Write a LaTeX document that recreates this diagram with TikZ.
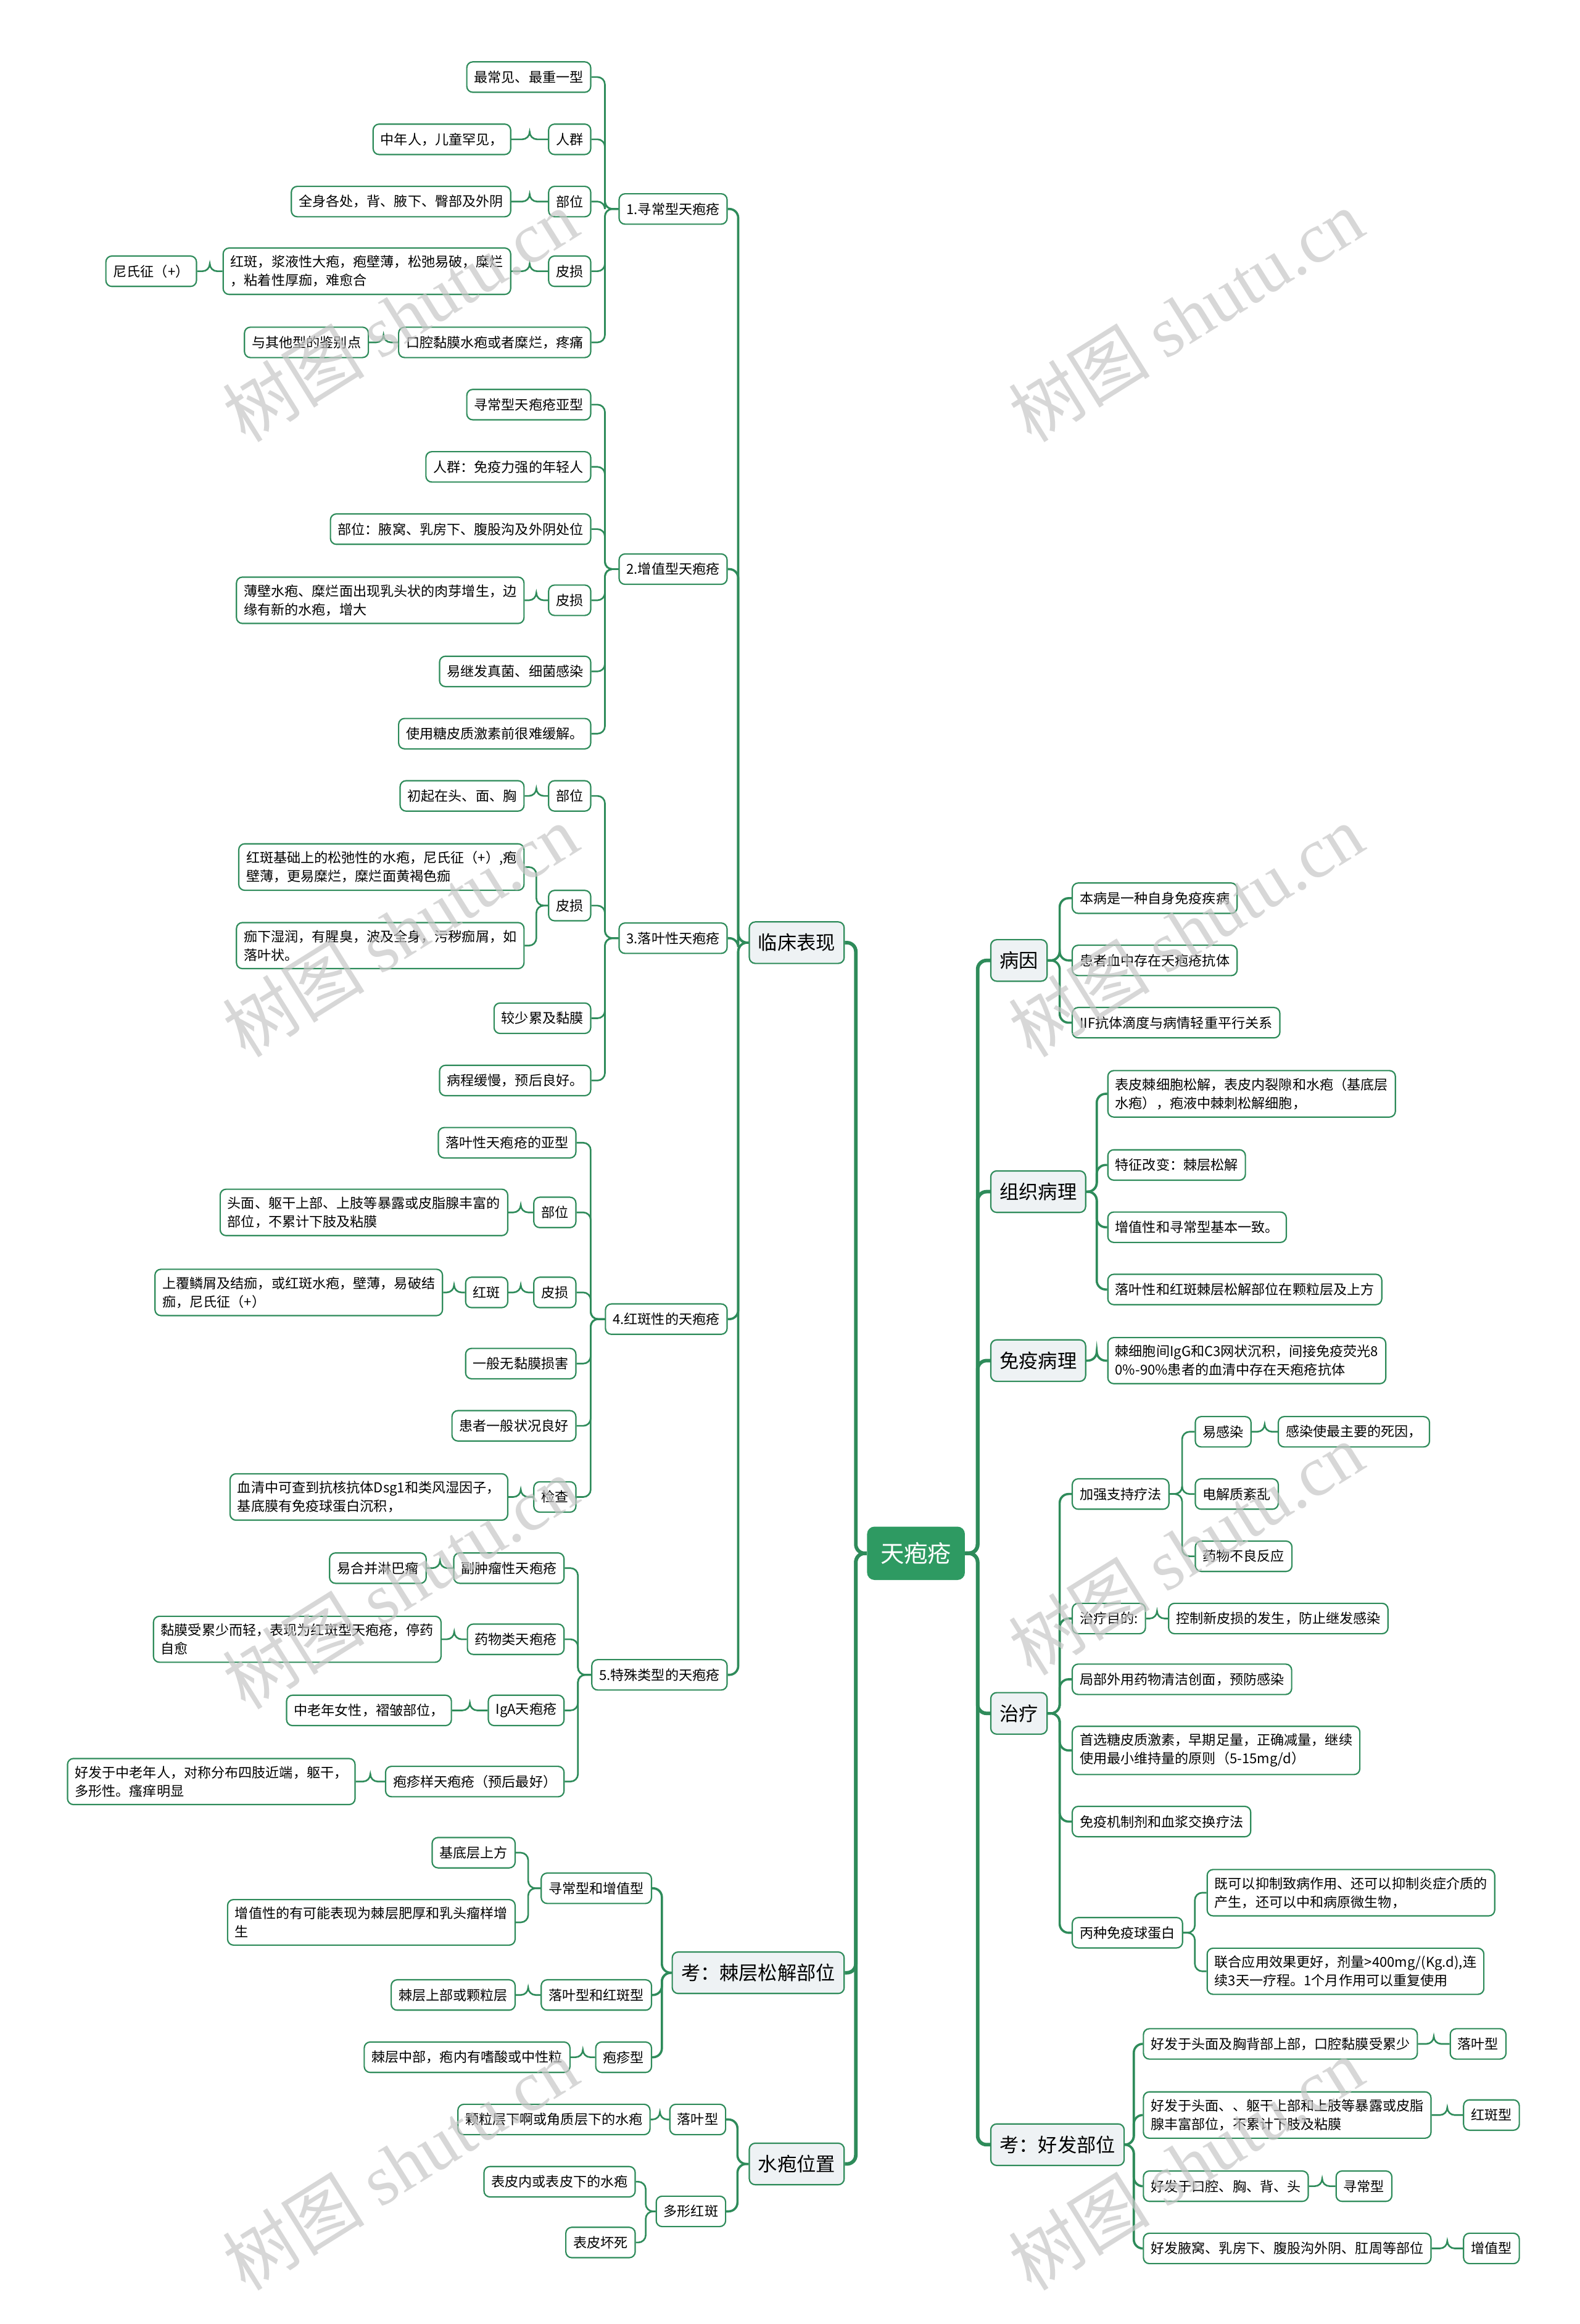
\documentclass[tikz,border=0pt]{standalone}
\usepackage{fontspec}
\setmainfont{Noto Sans CJK SC}
\newfontfamily\wmfont{Liberation Serif}
\usetikzlibrary{calc}
\definecolor{lg}{HTML}{2E8B5A}
\definecolor{rg}{HTML}{2E9A62}
\definecolor{lf}{HTML}{EEF2F4}
\newcommand\lk[3][]{\draw[#1] (#2.west) -- ($(#2.west)!0.5!(#2.west -| #3.east)$) |- (#3.east);}
\newcommand\rk[3][]{\draw[#1] (#2.east) -- ($(#2.east)!0.5!(#2.east -| #3.west)$) |- (#3.west);}
\begin{document}
\begin{tikzpicture}[x=1pt,y=-1pt,
  n/.style={draw=lg, line width=0.9pt, fill=white, rounded corners=4pt,
    font=\fontsize{9.2}{12.5}\selectfont, inner xsep=5pt, inner ysep=5pt,
    minimum height=20.5pt, align=left},
  l1/.style={n, fill=lf, font=\fontsize{13}{15}\selectfont, minimum height=28pt, inner xsep=6pt},
  root/.style={fill=rg, text=white, rounded corners=5pt, font=\fontsize{16}{18}\selectfont,
    minimum height=36pt, inner xsep=9pt},
  e0/.style={draw=lg, line width=2.4pt, rounded corners=6pt},
  e1/.style={draw=lg, line width=1.5pt, rounded corners=6pt},
  e2/.style={draw=lg, line width=1.1pt, rounded corners=5pt},
  wm/.style={rotate=32, text=black!22, opacity=0.7, font=\fontsize{48}{50}\selectfont}
]
\useasboundingbox (0,0) rectangle (1066,1568);
\fill[white] (0,0) rectangle (1066,1568);

% root and level 1
\node[root] (R) at (618,1048) {天疱疮};
\node[l1, anchor=east] (L) at (570,636) {临床表现};
\node[l1, anchor=east] (K1) at (570,1331) {考：棘层松解部位};
\node[l1, anchor=east] (W) at (570,1460) {水疱位置};
\node[l1, anchor=west] (B) at (668,648) {病因};
\node[l1, anchor=west] (Z) at (668,804) {组织病理};
\node[l1, anchor=west] (M) at (668,918) {免疫病理};
\node[l1, anchor=west] (T) at (668,1156) {治疗};
\node[l1, anchor=west] (H) at (668,1447) {考：好发部位};

% clinical subtypes
\node[n, anchor=east] (A1) at (491,141) {1.寻常型天疱疮};
\node[n, anchor=east] (A2) at (491,384) {2.增值型天疱疮};
\node[n, anchor=east] (A3) at (491,633) {3.落叶性天疱疮};
\node[n, anchor=east] (A4) at (491,890) {4.红斑性的天疱疮};
\node[n, anchor=east] (A5) at (491,1130) {5.特殊类型的天疱疮};

% A1
\node[n, anchor=east] (A1a) at (399,52) {最常见、最重一型};
\node[n, anchor=east] (A1b) at (399,94) {人群};
\node[n, anchor=east] (A1b1) at (345,94) {中年人，儿童罕见，};
\node[n, anchor=east] (A1c) at (399,136) {部位};
\node[n, anchor=east] (A1c1) at (345,136) {全身各处，背、腋下、臀部及外阴};
\node[n, anchor=east] (A1d) at (399,183) {皮损};
\node[n, anchor=east] (A1d1) at (345,183) {红斑，浆液性大疱，疱壁薄，松弛易破，糜烂\\，粘着性厚痂，难愈合};
\node[n, anchor=east] (A1d2) at (133,183) {尼氏征（+）};
\node[n, anchor=east] (A1e) at (399,231) {口腔黏膜水疱或者糜烂，疼痛};
\node[n, anchor=east] (A1e1) at (249,231) {与其他型的鉴别点};

% A2
\node[n, anchor=east] (A2a) at (399,273) {寻常型天疱疮亚型};
\node[n, anchor=east] (A2b) at (399,315) {人群：免疫力强的年轻人};
\node[n, anchor=east] (A2c) at (399,357) {部位：腋窝、乳房下、腹股沟及外阴处位};
\node[n, anchor=east] (A2d) at (399,405) {皮损};
\node[n, anchor=east] (A2d1) at (354,405) {薄壁水疱、糜烂面出现乳头状的肉芽增生，边\\缘有新的水疱，增大};
\node[n, anchor=east] (A2e) at (399,453) {易继发真菌、细菌感染};
\node[n, anchor=east] (A2f) at (399,495) {使用糖皮质激素前很难缓解。};

% A3
\node[n, anchor=east] (A3a) at (399,537) {部位};
\node[n, anchor=east] (A3a1) at (354,537) {初起在头、面、胸};
\node[n, anchor=east] (A3b) at (399,611) {皮损};
\node[n, anchor=east] (A3b1) at (354,585) {红斑基础上的松弛性的水疱，尼氏征（+）,疱\\壁薄，更易糜烂，糜烂面黄褐色痂};
\node[n, anchor=east] (A3b2) at (354,638) {痂下湿润，有腥臭，波及全身，污秽痂屑，如\\落叶状。};
\node[n, anchor=east] (A3c) at (399,687) {较少累及黏膜};
\node[n, anchor=east] (A3d) at (399,729) {病程缓慢，预后良好。};

% A4
\node[n, anchor=east] (A4a) at (389,771) {落叶性天疱疮的亚型};
\node[n, anchor=east] (A4b) at (389,818) {部位};
\node[n, anchor=east] (A4b1) at (343,818) {头面、躯干上部、上肢等暴露或皮脂腺丰富的\\部位，不累计下肢及粘膜};
\node[n, anchor=east] (A4c) at (389,872) {皮损};
\node[n, anchor=east] (A4c1) at (343,872) {红斑};
\node[n, anchor=east] (A4c2) at (299,872) {上覆鳞屑及结痂，或红斑水疱，壁薄，易破结\\痂，尼氏征（+）};
\node[n, anchor=east] (A4d) at (389,920) {一般无黏膜损害};
\node[n, anchor=east] (A4e) at (389,962) {患者一般状况良好};
\node[n, anchor=east] (A4f) at (389,1010) {检查};
\node[n, anchor=east] (A4f1) at (343,1010) {血清中可查到抗核抗体Dsg1和类风湿因子，\\基底膜有免疫球蛋白沉积，};

% A5
\node[n, anchor=east] (A5a) at (381,1058) {副肿瘤性天疱疮};
\node[n, anchor=east] (A5a1) at (288,1058) {易合并淋巴瘤};
\node[n, anchor=east] (A5b) at (381,1106) {药物类天疱疮};
\node[n, anchor=east] (A5b1) at (298,1106) {黏膜受累少而轻，表现为红斑型天疱疮，停药\\自愈};
\node[n, anchor=east] (A5c) at (381,1154) {IgA天疱疮};
\node[n, anchor=east] (A5c1) at (305,1154) {中老年女性，褶皱部位，};
\node[n, anchor=east] (A5d) at (381,1202) {疱疹样天疱疮（预后最好）};
\node[n, anchor=east] (A5d1) at (240,1202) {好发于中老年人，对称分布四肢近端，躯干，\\多形性。瘙痒明显};

% K1
\node[n, anchor=east] (K1a) at (440,1274) {寻常型和增值型};
\node[n, anchor=east] (K1a1) at (348,1250) {基底层上方};
\node[n, anchor=east] (K1a2) at (348,1297) {增值性的有可能表现为棘层肥厚和乳头瘤样增\\生};
\node[n, anchor=east] (K1b) at (440,1346) {落叶型和红斑型};
\node[n, anchor=east] (K1b1) at (348,1346) {棘层上部或颗粒层};
\node[n, anchor=east] (K1c) at (440,1388) {疱疹型};
\node[n, anchor=east] (K1c1) at (385,1388) {棘层中部，疱内有嗜酸或中性粒};

% W
\node[n, anchor=east] (W1) at (490,1430) {落叶型};
\node[n, anchor=east] (W1a) at (439,1430) {颗粒层下啊或角质层下的水疱};
\node[n, anchor=east] (W2) at (490,1492) {多形红斑};
\node[n, anchor=east] (W2a) at (429,1472) {表皮内或表皮下的水疱};
\node[n, anchor=east] (W2b) at (429,1513) {表皮坏死};

% right side
\node[n, anchor=west] (B1) at (723,606) {本病是一种自身免疫疾病};
\node[n, anchor=west] (B2) at (723,648) {患者血中存在天疱疮抗体};
\node[n, anchor=west] (B3) at (723,690) {IIF抗体滴度与病情轻重平行关系};

\node[n, anchor=west] (Z1) at (747,738) {表皮棘细胞松解，表皮内裂隙和水疱（基底层\\水疱），疱液中棘刺松解细胞，};
\node[n, anchor=west] (Z2) at (747,786) {特征改变：棘层松解};
\node[n, anchor=west] (Z3) at (747,828) {增值性和寻常型基本一致。};
\node[n, anchor=west] (Z4) at (747,870) {落叶性和红斑棘层松解部位在颗粒层及上方};

\node[n, anchor=west] (M1) at (747,918) {棘细胞间IgG和C3网状沉积，间接免疫荧光8\\0\%-90\%患者的血清中存在天疱疮抗体};

\node[n, anchor=west] (T1) at (723,1008) {加强支持疗法};
\node[n, anchor=west] (T1a) at (806,966) {易感染};
\node[n, anchor=west] (T1a1) at (862,966) {感染使最主要的死因，};
\node[n, anchor=west] (T1b) at (806,1008) {电解质紊乱};
\node[n, anchor=west] (T1c) at (806,1050) {药物不良反应};
\node[n, anchor=west] (T2) at (723,1092) {治疗目的:};
\node[n, anchor=west] (T2a) at (788,1092) {控制新皮损的发生，防止继发感染};
\node[n, anchor=west] (T3) at (723,1133) {局部外用药物清洁创面，预防感染};
\node[n, anchor=west] (T4) at (723,1181) {首选糖皮质激素，早期足量，正确减量，继续\\使用最小维持量的原则（5-15mg/d）};
\node[n, anchor=west] (T5) at (723,1229) {免疫机制剂和血浆交换疗法};
\node[n, anchor=west] (T6) at (723,1304) {丙种免疫球蛋白};
\node[n, anchor=west] (T6a) at (814,1277) {既可以抑制致病作用、还可以抑制炎症介质的\\产生，还可以中和病原微生物，};
\node[n, anchor=west] (T6b) at (814,1330) {联合应用效果更好，剂量>400mg/(Kg.d),连\\续3天一疗程。1个月作用可以重复使用};

\node[n, anchor=west] (H1) at (771,1379) {好发于头面及胸背部上部，口腔黏膜受累少};
\node[n, anchor=west] (H1a) at (978,1379) {落叶型};
\node[n, anchor=west] (H2) at (771,1427) {好发于头面、、躯干上部和上肢等暴露或皮脂\\腺丰富部位，不累计下肢及粘膜};
\node[n, anchor=west] (H2a) at (987,1427) {红斑型};
\node[n, anchor=west] (H3) at (771,1475) {好发于口腔、胸、背、头};
\node[n, anchor=west] (H3a) at (901,1475) {寻常型};
\node[n, anchor=west] (H4) at (771,1517) {好发腋窝、乳房下、腹股沟外阴、肛周等部位};
\node[n, anchor=west] (H4a) at (987,1517) {增值型};

% ---- connectors ----
\lk[e0]{R}{L} \lk[e0]{R}{K1} \lk[e0]{R}{W}
\rk[e0]{R}{B} \rk[e0]{R}{Z} \rk[e0]{R}{M} \rk[e0]{R}{T} \rk[e0]{R}{H}

\lk[e1]{L}{A1} \lk[e1]{L}{A2} \lk[e1]{L}{A3} \lk[e1]{L}{A4} \lk[e1]{L}{A5}
\lk[e1]{K1}{K1a} \lk[e1]{K1}{K1b} \lk[e1]{K1}{K1c}
\lk[e1]{W}{W1} \lk[e1]{W}{W2}
\rk[e1]{B}{B1} \rk[e1]{B}{B2} \rk[e1]{B}{B3}
\rk[e1]{Z}{Z1} \rk[e1]{Z}{Z2} \rk[e1]{Z}{Z3} \rk[e1]{Z}{Z4}
\rk[e1]{M}{M1}
\rk[e1]{T}{T1} \rk[e1]{T}{T2} \rk[e1]{T}{T3} \rk[e1]{T}{T4} \rk[e1]{T}{T5} \rk[e1]{T}{T6}
\rk[e1]{H}{H1} \rk[e1]{H}{H2} \rk[e1]{H}{H3} \rk[e1]{H}{H4}

\lk[e2]{A1}{A1a} \lk[e2]{A1}{A1b} \lk[e2]{A1}{A1c} \lk[e2]{A1}{A1d} \lk[e2]{A1}{A1e}
\lk[e2]{A1b}{A1b1} \lk[e2]{A1c}{A1c1} \lk[e2]{A1d}{A1d1} \lk[e2]{A1d1}{A1d2} \lk[e2]{A1e}{A1e1}
\lk[e2]{A2}{A2a} \lk[e2]{A2}{A2b} \lk[e2]{A2}{A2c} \lk[e2]{A2}{A2d} \lk[e2]{A2}{A2e} \lk[e2]{A2}{A2f}
\lk[e2]{A2d}{A2d1}
\lk[e2]{A3}{A3a} \lk[e2]{A3}{A3b} \lk[e2]{A3}{A3c} \lk[e2]{A3}{A3d}
\lk[e2]{A3a}{A3a1} \lk[e2]{A3b}{A3b1} \lk[e2]{A3b}{A3b2}
\lk[e2]{A4}{A4a} \lk[e2]{A4}{A4b} \lk[e2]{A4}{A4c} \lk[e2]{A4}{A4d} \lk[e2]{A4}{A4e} \lk[e2]{A4}{A4f}
\lk[e2]{A4b}{A4b1} \lk[e2]{A4c}{A4c1} \lk[e2]{A4c1}{A4c2} \lk[e2]{A4f}{A4f1}
\lk[e2]{A5}{A5a} \lk[e2]{A5}{A5b} \lk[e2]{A5}{A5c} \lk[e2]{A5}{A5d}
\lk[e2]{A5a}{A5a1} \lk[e2]{A5b}{A5b1} \lk[e2]{A5c}{A5c1} \lk[e2]{A5d}{A5d1}
\lk[e2]{K1a}{K1a1} \lk[e2]{K1a}{K1a2} \lk[e2]{K1b}{K1b1} \lk[e2]{K1c}{K1c1}
\lk[e2]{W1}{W1a} \lk[e2]{W2}{W2a} \lk[e2]{W2}{W2b}
\rk[e2]{T1}{T1a} \rk[e2]{T1}{T1b} \rk[e2]{T1}{T1c} \rk[e2]{T1a}{T1a1}
\rk[e2]{T2}{T2a}
\rk[e2]{T6}{T6a} \rk[e2]{T6}{T6b}
\rk[e2]{H1}{H1a} \rk[e2]{H2}{H2a} \rk[e2]{H3}{H3a} \rk[e2]{H4}{H4a}

% ---- watermarks ----
\foreach \wx/\wy in {270/213, 800/213, 270/628, 800/628, 270/1068, 800/1045, 270/1460, 800/1460}
  \node[wm] at (\wx,\wy) {树图 {\wmfont shutu.cn}};
\end{tikzpicture}
\end{document}
